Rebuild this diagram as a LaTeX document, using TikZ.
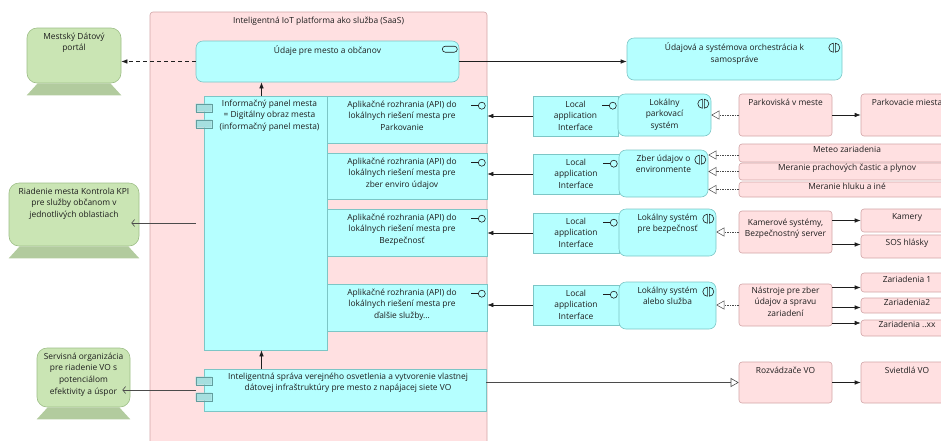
\documentclass[tikz,border=0pt]{standalone}
\usepackage{fontspec}
\setmainfont{Open Sans}
\usetikzlibrary{arrows.meta,fit}

\definecolor{appfill}{HTML}{B5FFFF}
\definecolor{appline}{HTML}{7CC6C6}
\definecolor{compfill}{HTML}{A6DFDF}
\definecolor{techfill}{HTML}{FFE0E1}
\definecolor{techline}{HTML}{D2A5A7}
\definecolor{bizfill}{HTML}{CAE5B4}
\definecolor{bizline}{HTML}{9DBE87}
\definecolor{bizbase}{HTML}{B2CB9E}
\definecolor{ink}{HTML}{1E1E1E}

\tikzset{
  every node/.style={font=\fontsize{8.4}{11.6}\selectfont, align=center, text=ink},
  box/.style={fit={#1}, inner sep=0pt},
  app/.style={draw=appline, fill=appfill, line width=0.6pt},
  apprnd/.style={app, rounded corners=7pt},
  tech/.style={draw=techline, fill=techfill, line width=0.6pt, rounded corners=3pt},
  biz/.style={draw=bizline, fill=bizfill, line width=0.6pt, rounded corners=10pt},
  lbl/.style={anchor=north, inner sep=0pt, yshift=-5pt},
  icon/.style={draw=ink, line width=0.6pt, y=1pt},
  flow/.style={draw=ink, line width=0.6pt, -{Latex[length=6pt,width=4.5pt]}},
  serve/.style={draw=ink!80, line width=0.6pt, -{Straight Barb[length=3pt,width=7pt]}},
  access/.style={draw=ink, line width=0.6pt, dash pattern=on 4pt off 3pt, -{Latex[length=6pt,width=4.5pt]}},
  real/.style={draw=ink!80, line width=0.5pt, dash pattern=on 1.5pt off 1pt, -{Triangle[open,length=8pt,width=9pt,fill=white]}},
  spec/.style={draw=ink!80, line width=0.6pt, -{Triangle[open,length=8pt,width=9pt,fill=white]}},
  ifc/.pic={\draw[icon] (-16,0) -- (-9,0); \draw[icon, fill=appfill] (-5.5,0) circle (3.5);},
  inter/.pic={\draw[icon] (-1,4.5) arc (90:270:4.5) -- cycle; \draw[icon] (1,4.5) arc (90:-90:4.5) -- cycle;},
  srvc/.pic={\draw[icon, rounded corners=3pt] (-7.5,-3) rectangle (7.5,3);},
  comp/.pic={\draw[draw=appline!80!black, fill=compfill, y=1pt] (-8,-8) rectangle (8,-16) (-8,-24) rectangle (8,-32);}
}

\begin{document}
\begin{tikzpicture}[x=1pt, y=-1pt]
\useasboundingbox (0,0) rectangle (941,440);
\clip (0,0) rectangle (941,440);

% platforma
\node[tech, box={(150,12) (487,450)}, label={[lbl]north:{Inteligentná IoT platforma ako služba (SaaS)}}] (saas) {};
\node[apprnd, box={(196,41) (459,82)}, label={[lbl]north:{Údaje pre mesto a občanov}}] (udaje) {};
\node[app, box={(204,96) (327,350)}, label={[lbl, xshift=4pt, yshift=1pt]north:{Informačný panel mesta\\= Digitálny obraz mesta\\(informačný panel mesta)}}] (info) {};
\node[app, box={(327,96) (487,143)}, label={[lbl, xshift=-5pt]north:{Aplikačné rozhrania (API) do\\lokálnych riešení mesta pre\\Parkovanie}}] (api1) {};
\node[app, box={(327,153) (487,199)}, label={[lbl, xshift=-5pt]north:{Aplikačné rozhrania (API) do\\lokálnych riešení mesta pre\\zber enviro údajov}}] (api2) {};
\node[app, box={(327,209) (487,256)}, label={[lbl, xshift=-5pt]north:{Aplikačné rozhrania (API) do\\lokálnych riešení mesta pre\\Bezpečnosť}}] (api3) {};
\node[app, box={(327,284) (487,331)}, label={[lbl, xshift=-5pt]north:{Aplikačné rozhrania (API) do\\lokálnych riešení mesta pre\\ďalšie služby...}}] (api4) {};
\node[app, box={(204,369) (486,411)}, label={[lbl, xshift=3pt, yshift=1pt]north:{Inteligentná správa verejného osvetlenia a vytvorenie vlastnej\\dátovej infraštruktúry pre mesto z napájacej siete VO}}] (sprava) {};

% biznis strana
\node[biz, box={(27,28) (121,83)}, label={[lbl]north:{Mestský Dátový\\portál}}] (portal) {};
\node[biz, box={(9,183) (139,246)}, label={[lbl]north:{Riadenie mesta Kontrola KPI\\pre služby občanom v\\jednotlivých oblastiach}}] (riadenie) {};
\node[biz, box={(37,348) (130,407)}, label={[lbl]north:{Servisná organizácia\\pre riadenie VO s\\potenciálom\\efektivity a úspor}}] (servis) {};
\foreach \d in {portal,riadenie,servis}
  \fill[bizbase] ([xshift=11pt]\d.south west) -- ([xshift=-11pt]\d.south east)
    -- ([yshift=-12pt]\d.south east) -- ([yshift=-12pt]\d.south west) -- cycle;

% lokalne systemy
\node[apprnd, box={(627,38) (842,80)}, label={[lbl]north:{Údajová a systémova orchestrácia k\\samospráve}}] (orch) {};
\node[app, box={(533,96) (618,136)}, label={[lbl]north:{Local\\application\\Interface}}] (loc1) {};
\node[app, box={(533,154) (619,194)}, label={[lbl]north:{Local\\application\\Interface}}] (loc2) {};
\node[app, box={(533,213) (619,253)}, label={[lbl]north:{Local\\application\\Interface}}] (loc3) {};
\node[app, box={(533,285) (619,325)}, label={[lbl]north:{Local\\application\\Interface}}] (loc4) {};
\node[apprnd, box={(618,94) (711,136)}, label={[lbl]north:{Lokálny\\parkovací\\systém}}] (park) {};
\node[apprnd, box={(619,150) (708,197)}, label={[lbl]north:{Zber údajov o\\environmente}}] (zber) {};
\node[apprnd, box={(619,209) (716,256)}, label={[lbl]north:{Lokálny systém\\pre bezpečnosť}}] (bezp) {};
\node[apprnd, box={(619,282) (716,329)}, label={[lbl]north:{Lokálny systém\\alebo služba}}] (alebo) {};

% technologie
\node[tech, box={(739,94) (832,136)}, label={[lbl]north:{Parkoviská v meste}}] (parkoviska) {};
\node[tech, box={(861,94) (953,136)}, label={[lbl]north:{Parkovacie miesta}}] (miesta) {};
\node[tech, box={(739,144) (955,162)}] (meteo) {Meteo zariadenia};
\node[tech, box={(739,163) (955,180)}] (prach) {Meranie prachových častic a plynov};
\node[tech, box={(739,182) (955,197)}] (hluk) {Meranie hluku a iné};
\node[tech, box={(739,211) (832,253)}] (kamer) {Kamerové systémy,\\Bezpečnostný server};
\node[tech, box={(861,209) (953,232)}] (kamery) {Kamery};
\node[tech, box={(861,235) (953,258)}] (sos) {SOS hlásky};
\node[tech, box={(739,284) (832,326)}] (nastroje) {Nástroje pre zber\\údajov a spravu\\zariadení};
\node[tech, box={(861,273) (953,292)}] (zar1) {Zariadenia 1};
\node[tech, box={(861,298) (953,313)}] (zar2) {Zariadenia2};
\node[tech, box={(861,320) (953,336)}] (zar3) {Zariadenia ..xx};
\node[tech, box={(739,362) (832,403)}, label={[lbl]north:{Rozvádzače VO}}] (rozv) {};
\node[tech, box={(861,362) (953,403)}, label={[lbl]north:{Svietdlá VO}}] (svie) {};

% ikony
\pic at ([xshift=-9.5pt,yshift=-8.5pt]udaje.north east) {srvc};
\foreach \n in {api1,api2,api3,api4,loc1,loc2,loc3,loc4}
  \pic at ([yshift=-10pt]\n.north east) {ifc};
\foreach \n in {orch,park,zber,bezp,alebo}
  \pic at ([xshift=-8pt,yshift=-10pt]\n.north east) {inter};
\pic at (info.north west) {comp};
\pic at (sprava.north west) {comp};

% spojenia
\draw[flow] ([xshift=-4pt]info.north) -- ([xshift=-4pt]info.north |- udaje.south);
\draw[flow] ([xshift=-4pt]info.south |- sprava.north) -- ([xshift=-4pt]info.south);
\draw[access] (udaje.west) -- (udaje.west -| portal.east);
\draw[flow] (udaje.east) -- (udaje.east -| orch.west);
\draw[serve] ([xshift=-8pt]info.west) -- ([xshift=-8pt]info.west -| riadenie.east);
\draw[serve] ([xshift=-8pt]sprava.west) -- ([xshift=-8pt]sprava.west -| servis.east);
\draw[flow] (loc1.west) -- (loc1.west -| api1.east);
\draw[flow] (loc2.west) -- (loc2.west -| api2.east);
\draw[flow] (loc3.west) -- (loc3.west -| api3.east);
\draw[flow] (loc4.west) -- (loc4.west -| api4.east);
\draw[real] (parkoviska.west) -- (parkoviska.west -| park.east);
\draw[flow] (parkoviska.east) -- (parkoviska.east -| miesta.west);
\draw[real] ([yshift=-2pt]meteo.west) -- ([yshift=-2pt]meteo.west -| zber.east);
\draw[real] (prach.west) -- (prach.west -| zber.east);
\draw[real] (hluk.west) -- (hluk.west -| zber.east);
\draw[real] (kamer.west) -- (kamer.west -| bezp.east);
\draw[flow] (kamery.west -| kamer.east) -- (kamery.west);
\draw[flow] ([yshift=2pt]sos.west -| kamer.east) -- ([yshift=2pt]sos.west);
\draw[real] (nastroje.west) -- (nastroje.west -| alebo.east);
\draw[flow] ([yshift=-5pt]zar1.west -| nastroje.east) -- ([yshift=-5pt]zar1.west);
\draw[flow] ([yshift=-2pt]zar2.west -| nastroje.east) -- ([yshift=-2pt]zar2.west);
\draw[flow] ([yshift=5pt]zar3.west -| nastroje.east) -- ([yshift=5pt]zar3.west);
\draw[spec] (rozv.west -| sprava.east) -- (rozv.west);
\draw[flow] (rozv.east) -- (rozv.east -| svie.west);
\end{tikzpicture}
\end{document}
